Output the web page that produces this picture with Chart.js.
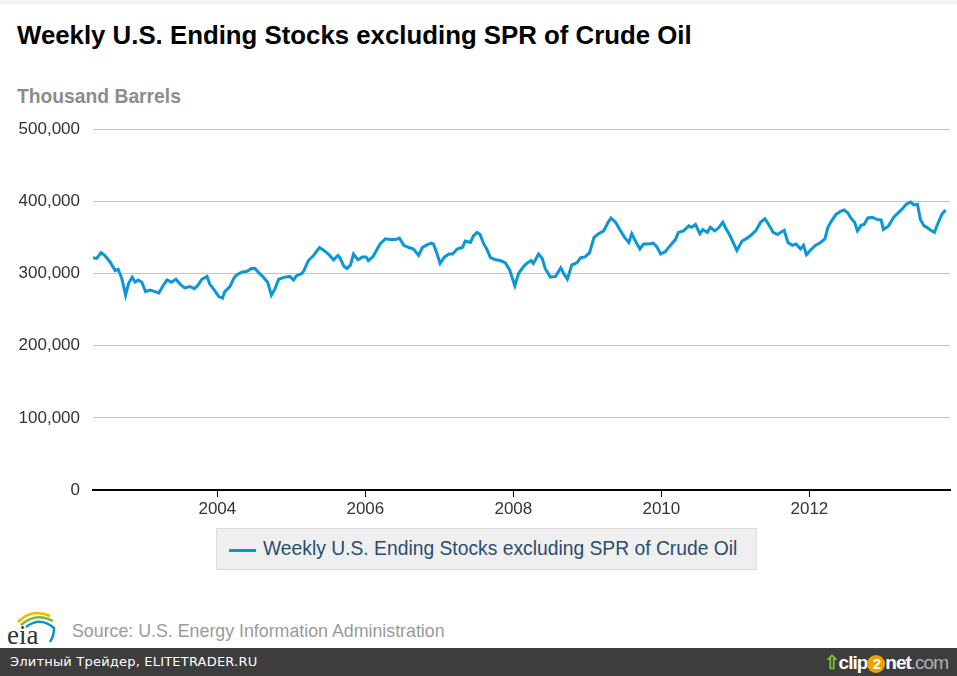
<!DOCTYPE html>
<html>
<head>
<meta charset="utf-8">
<script src="https://cdn.jsdelivr.net/npm/chart.js@4.4.0/dist/chart.umd.min.js"></script>
<style>
    body { margin: 0; width: 957px; height: 676px; background: #fff; font-family: "Liberation Sans", Arial, sans-serif; position: relative; overflow: hidden; }
    #topStrip { position: absolute; left: 0; top: 0; width: 957px; height: 5px; background: #f4f4f4; }
    #title { position: absolute; left: 17px; top: 21px; font-size: 25.8px; font-weight: bold; color: #000; }
    #unit { position: absolute; left: 17px; top: 86px; font-size: 19.3px; font-weight: bold; color: #8c8c8c; }
    #chartBox { position: absolute; left: 0; top: 106px; width: 957px; height: 416px; }
    #legend { position: absolute; left: 216px; top: 528px; width: 539px; height: 40px; background: #efefef; border: 1px solid #dcdcdc; }
    #legend .swatch { position: absolute; left: 12px; top: 20px; width: 27px; height: 3px; background: #0a96d7; }
    #legend .label { position: absolute; left: 46px; top: 9px; font-size: 19.3px; color: #2b4c6e; white-space: nowrap; }
    #logo { position: absolute; left: 6px; top: 606px; }
    #source { position: absolute; left: 72px; top: 621px; font-size: 17.8px; color: #9a9a9a; }
    #bottomBar { position: absolute; left: 0; top: 648px; width: 957px; height: 28px; background: #3d3d3d; }
    #bottomBar .left { position: absolute; left: 10px; top: 6px; font-family: "DejaVu Sans", sans-serif; font-size: 13px; color: #fff; letter-spacing: 0.2px; }
    #bottomBar .right { position: absolute; right: 9px; top: 3px; font-family: "Liberation Sans", Arial, sans-serif; font-size: 19px; font-weight: bold; color: #fff; letter-spacing: -1px; }
    #bottomBar .two { display: inline-block; width: 18px; height: 18px; line-height: 18px; border-radius: 9px; background: #f0a000; text-align: center; font-size: 15px; }
    #bottomBar .com { color: #b0b0b0; font-weight: normal; }
</style>
</head>
<body>
<div id="topStrip"></div>
<div id="title">Weekly U.S. Ending Stocks excluding SPR of Crude Oil</div>
<div id="unit">Thousand Barrels</div>
<div id="chartBox"><canvas id="stocksChart"></canvas></div>
<div id="legend"><div class="swatch"></div><div class="label">Weekly U.S. Ending Stocks excluding SPR of Crude Oil</div></div>
<svg id="logo" width="52" height="42" viewBox="0 0 52 42">
    <path d="M12 16 Q26 2 44 10" stroke="#f2b900" stroke-width="2.5" fill="none"/>
    <path d="M15 19 Q30 6 47 15" stroke="#7dbb2f" stroke-width="2.5" fill="none"/>
    <path d="M20 21 Q34 10 48 22 Q48 30 44 36" stroke="#0a8fd0" stroke-width="2.5" fill="none"/>
    <text x="1" y="38" font-family="Liberation Serif, serif" font-size="27" fill="#333">eia</text>
</svg>
<div id="source">Source: U.S. Energy Information Administration</div>
<div id="bottomBar">
    <div class="left">Элитный Трейдер, ELITETRADER.RU</div>
    <div class="right"><span style="color:#7cc23a">&#x21E7;</span>clip<span class="two">2</span>net<span class="com">.com</span></div>
</div>

<script>
// Werte (Jahr als Dezimalzahl, Bestand in Tausend Barrel)
const weekYears = [
    2002.32, 2002.37, 2002.43, 2002.48, 2002.55, 2002.62, 2002.66, 2002.71, 2002.76, 2002.80,
    2002.85, 2002.89, 2002.93, 2002.98, 2003.03, 2003.09, 2003.16, 2003.21, 2003.26, 2003.32,
    2003.38, 2003.44, 2003.50, 2003.56, 2003.63, 2003.69, 2003.74, 2003.79, 2003.86, 2003.90,
    2003.96, 2004.02, 2004.07, 2004.10, 2004.17, 2004.22, 2004.26, 2004.33, 2004.40, 2004.46,
    2004.51, 2004.55, 2004.62, 2004.68, 2004.73, 2004.78, 2004.83, 2004.91, 2004.98, 2005.03,
    2005.07, 2005.14, 2005.17, 2005.23, 2005.30, 2005.38, 2005.44, 2005.50, 2005.57, 2005.63,
    2005.66, 2005.71, 2005.75, 2005.80, 2005.84, 2005.90, 2005.96, 2006.01, 2006.04, 2006.10,
    2006.16, 2006.20, 2006.27, 2006.34, 2006.41, 2006.46, 2006.52, 2006.59, 2006.65, 2006.72,
    2006.77, 2006.82, 2006.89, 2006.92, 2006.97, 2007.01, 2007.07, 2007.13, 2007.18, 2007.24,
    2007.31, 2007.35, 2007.42, 2007.46, 2007.51, 2007.55, 2007.60, 2007.64, 2007.69, 2007.76,
    2007.82, 2007.89, 2007.95, 2008.02, 2008.07, 2008.14, 2008.18, 2008.24, 2008.27, 2008.34,
    2008.39, 2008.43, 2008.50, 2008.57, 2008.64, 2008.68, 2008.73, 2008.79, 2008.86, 2008.91,
    2008.97, 2009.03, 2009.09, 2009.15, 2009.22, 2009.28, 2009.32, 2009.38, 2009.45, 2009.51,
    2009.56, 2009.60, 2009.66, 2009.71, 2009.76, 2009.83, 2009.89, 2009.94, 2009.99, 2010.05,
    2010.12, 2010.19, 2010.23, 2010.30, 2010.37, 2010.41, 2010.46, 2010.52, 2010.56, 2010.62,
    2010.66, 2010.72, 2010.77, 2010.83, 2010.88, 2010.93, 2011.02, 2011.09, 2011.16, 2011.23,
    2011.28, 2011.34, 2011.40, 2011.45, 2011.51, 2011.57, 2011.61, 2011.66, 2011.71, 2011.77,
    2011.82, 2011.88, 2011.92, 2011.96, 2012.01, 2012.08, 2012.15, 2012.21, 2012.25, 2012.30,
    2012.36, 2012.42, 2012.47, 2012.52, 2012.56, 2012.61, 2012.65, 2012.70, 2012.74, 2012.79,
    2012.85, 2012.91, 2012.97, 2013.00, 2013.07, 2013.14, 2013.20, 2013.26, 2013.31, 2013.37,
    2013.41, 2013.46, 2013.50, 2013.55, 2013.60, 2013.64, 2013.69, 2013.73, 2013.79, 2013.84
];

const stocks = [
    322000, 321000, 329000, 325000, 316000, 304000, 306000, 293000, 270000, 286000,
    295000, 288000, 291000, 288000, 275000, 277000, 275000, 273000, 282000, 291000,
    288000, 292000, 285000, 280000, 282000, 279000, 284000, 292000, 296000, 285000,
    277000, 268000, 266000, 275000, 282000, 293000, 298000, 302000, 303000, 307000,
    307000, 302000, 295000, 288000, 270000, 279000, 292000, 295000, 296000, 291000,
    297000, 300000, 304000, 318000, 325000, 336000, 332000, 327000, 319000, 325000,
    321000, 310000, 307000, 312000, 327000, 319000, 323000, 323000, 318000, 323000,
    334000, 341000, 348000, 347000, 347000, 349000, 339000, 336000, 334000, 325000,
    336000, 339000, 342000, 341000, 327000, 314000, 323000, 327000, 327000, 334000,
    336000, 345000, 343000, 352000, 357000, 354000, 341000, 334000, 322000, 319000,
    318000, 315000, 305000, 283000, 300000, 310000, 314000, 318000, 314000, 327000,
    321000, 307000, 295000, 296000, 308000, 300000, 292000, 312000, 315000, 322000,
    323000, 329000, 350000, 355000, 359000, 371000, 377000, 371000, 359000, 349000,
    343000, 355000, 343000, 334000, 341000, 341000, 342000, 337000, 327000, 330000,
    339000, 347000, 357000, 359000, 366000, 364000, 368000, 355000, 361000, 357000,
    364000, 359000, 363000, 371000, 361000, 352000, 332000, 345000, 349000, 355000,
    360000, 371000, 376000, 368000, 357000, 354000, 357000, 360000, 343000, 339000,
    341000, 334000, 339000, 326000, 332000, 339000, 343000, 348000, 364000, 373000,
    382000, 386000, 388000, 384000, 377000, 371000, 359000, 367000, 368000, 377000,
    378000, 375000, 374000, 361000, 366000, 378000, 384000, 390000, 396000, 399000,
    395000, 396000, 375000, 366000, 363000, 360000, 357000, 368000, 382000, 388000
];

const tickYears = [2004, 2006, 2008, 2010, 2012];
const yTicks = [0, 100000, 200000, 300000, 400000, 500000];
const seriesName = 'Weekly U.S. Ending Stocks excluding SPR of Crude Oil';

const points = weekYears.map((yr, i) => ({ x: yr, y: stocks[i] }));

const ctx = document.getElementById('stocksChart').getContext('2d');
const chart = new Chart(ctx, {
    type: 'line',
    data: {
        datasets: [{
            label: seriesName,
            data: points,
            borderColor: '#0a96d7',
            borderWidth: 3,
            pointRadius: 0,
            tension: 0,
            fill: false
        }]
    },
    options: {
        responsive: true,
        maintainAspectRatio: false,
        animation: false,
        layout: { padding: { top: 15, right: 7, left: 0, bottom: 0 } },
        plugins: {
            legend: { display: false }, // eigene Legende in HTML
            tooltip: { enabled: false }
        },
        scales: {
            x: {
                type: 'linear',
                min: 2002.32,
                max: 2013.9,
                afterBuildTicks: scale => {
                    scale.ticks = tickYears.map(v => ({ value: v }));
                },
                afterFit: scale => { scale.height = 32; },
                border: { display: true, color: '#000', width: 2 },
                grid: { drawOnChartArea: false, drawTicks: true, tickLength: 7, color: '#000', lineWidth: 1 },
                ticks: {
                    color: '#333',
                    padding: 2,
                    font: { family: 'Liberation Sans', size: 17 },
                    callback: v => String(v),
                    maxRotation: 0
                }
            },
            y: {
                min: 0,
                max: 500000,
                afterBuildTicks: scale => {
                    scale.ticks = yTicks.map(v => ({ value: v }));
                },
                afterFit: scale => { scale.width = 93; },
                border: { display: false },
                grid: { color: '#c4c4c4', lineWidth: 1, drawTicks: false },
                ticks: {
                    color: '#333',
                    padding: 13,
                    font: { family: 'Liberation Sans', size: 17 },
                    callback: v => v.toLocaleString('en-US')
                }
            }
        }
    }
});
</script>
</body>
</html>
